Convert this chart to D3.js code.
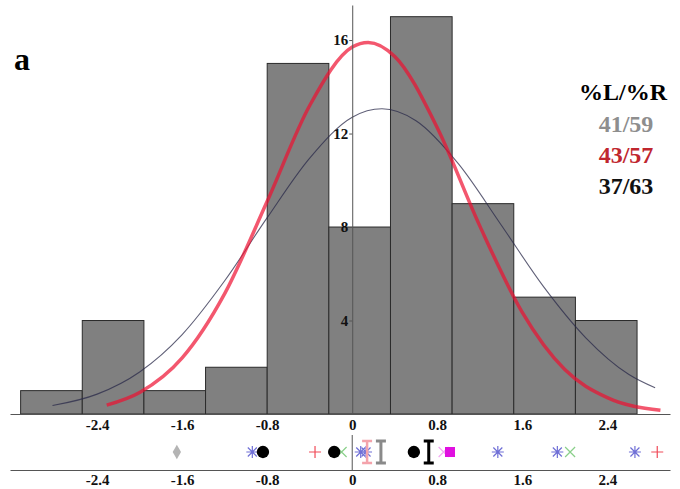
<!DOCTYPE html>
<html>
<head>
<meta charset="utf-8">
<script src="https://cdn.jsdelivr.net/npm/d3@7"></script>
<style>
  body { margin: 0; background: #fff; }
  svg { display: block; }
  .axis path, .axis line { stroke: #555; }
</style>
</head>
<body>
<svg id="chart" width="680" height="489"></svg>
<script>
// histogram bins (edges) and counts
const binEdges = [-3.12, -2.54, -1.96, -1.38, -0.8, -0.22, 0.36, 0.94, 1.52, 2.1, 2.68];
const binCounts = [1, 4, 1, 2, 15, 8, 17, 9, 5, 4];

// red (thick) curve
const redX = [-2.31, -2.0, -1.6, -1.2, -0.8, -0.4, 0, 0.15, 0.4, 0.8, 1.2, 1.6, 2.0, 2.4, 2.9];
const redY = [0.38, 0.92, 2.4, 5.15, 9.1, 13.2, 15.7, 15.9, 15.3, 12.25, 8.05, 4.35, 1.9, 0.7, 0.16];

// thin dark curve
const darkX = [-2.82, -2.4, -2.0, -1.6, -1.2, -0.8, -0.4, 0, 0.28, 0.6, 1.0, 1.4, 1.8, 2.2, 2.6, 2.85];
const darkY = [0.36, 0.85, 1.8, 3.4, 5.7, 8.4, 10.95, 12.7, 13.06, 12.55, 10.7, 8.1, 5.45, 3.25, 1.7, 1.12];

// summary markers in the strip under the histogram
const markerX = [-1.65, -0.94, -0.84, -0.35, -0.1, -0.17, 0.08, 0.13, 0.14, 0.27, 0.58, 0.72, 0.86, 0.92, 1.37, 1.93, 2.05, 2.66, 2.87];
const markerType = ["diamond", "asterisk", "dot", "plus", "x", "dot", "asterisk", "asterisk", "ibeam", "ibeam", "dot", "ibeam", "x", "square", "asterisk", "asterisk", "x", "asterisk", "plus"];
const markerColor = ["#b4b4b4", "#6f6fd6", "#000", "#f04a58", "#8ad08a", "#000", "#6f6fd6", "#6f6fd6", "#f4a3ab", "#8a8a8a", "#000", "#000", "#f2a8f2", "#e010e0", "#6f6fd6", "#6f6fd6", "#8ad08a", "#6f6fd6", "#f04a58"];

const xTicks = [-2.4, -1.6, -0.8, 0, 0.8, 1.6, 2.4];
const yTicks = [4, 8, 12, 16];

const ratioTitle = "%L/%R";
const ratioLabels = ["41/59", "43/57", "37/63"];
const ratioColors = ["#8e8e8e", "#c0262e", "#111"];

const SERIF = "'Liberation Serif', 'Times New Roman', serif";
const svg = d3.select("#chart").attr("font-family", SERIF);

const x = d3.scaleLinear().domain([-3.22, 2.99]).range([10, 670]);
const y = d3.scaleLinear().domain([0, 17.5]).range([414, 5]);
const stripY = 452;
const baseY = 470;

// bars
const bins = binCounts.map((c, i) => ({ x0: binEdges[i], x1: binEdges[i + 1], n: c }));
svg.append("g")
  .selectAll("rect")
  .data(bins)
  .join("rect")
  .attr("x", (d) => x(d.x0))
  .attr("y", (d) => y(d.n))
  .attr("width", (d) => x(d.x1) - x(d.x0))
  .attr("height", (d) => y(0) - y(d.n))
  .attr("fill", "#808080")
  .attr("stroke", "#2b2b2b")
  .attr("stroke-width", 1);

// curves
const line = d3.line()
  .x((d) => x(d[0]))
  .y((d) => y(d[1]))
  .curve(d3.curveMonotoneX);

svg.append("path")
  .datum(darkX.map((v, i) => [v, darkY[i]]))
  .attr("d", line)
  .attr("fill", "none")
  .attr("stroke", "#2a2a4a")
  .attr("stroke-opacity", 0.75)
  .attr("stroke-width", 1.1);

svg.append("path")
  .datum(redX.map((v, i) => [v, redY[i]]))
  .attr("d", line)
  .attr("fill", "none")
  .attr("stroke", "#ee1030")
  .attr("stroke-opacity", 0.7)
  .attr("stroke-width", 3.5);

// bold serif tick labels
function styleTicks(g) {
  g.attr("font-family", SERIF).attr("font-size", 15).attr("font-weight", "bold");
  g.selectAll("text").attr("fill", "#111");
}

// y axis (vertical line through zero)
svg.append("g")
  .attr("class", "axis")
  .attr("transform", `translate(${x(0)},0)`)
  .call(d3.axisLeft(y).tickValues(yTicks).tickSize(3).tickSizeOuter(0).tickPadding(1))
  .call(styleTicks);

// top x axis
const fmt = (d) => (d === 0 ? "0" : d.toFixed(1));
svg.append("g")
  .attr("class", "axis")
  .attr("transform", `translate(0,${y(0)})`)
  .call(d3.axisBottom(x).tickValues(xTicks).tickFormat(fmt).tickSize(0).tickSizeOuter(0).tickPadding(5))
  .call(styleTicks);

// bottom x axis under the marker strip
svg.append("g")
  .attr("class", "axis")
  .attr("transform", `translate(0,${baseY})`)
  .call(d3.axisBottom(x).tickValues(xTicks).tickFormat(fmt).tickSize(0).tickSizeOuter(0).tickPadding(4))
  .call(styleTicks);

svg.append("line")
  .attr("x1", x(0)).attr("x2", x(0))
  .attr("y1", 435).attr("y2", baseY)
  .attr("stroke", "#555");

// marker glyphs
function glyph(type) {
  const p = d3.path();
  if (type === "plus") {
    p.moveTo(-6, 0); p.lineTo(6, 0); p.moveTo(0, -6); p.lineTo(0, 6);
  } else if (type === "x") {
    p.moveTo(-5, -5); p.lineTo(5, 5); p.moveTo(-5, 5); p.lineTo(5, -5);
  } else if (type === "asterisk") {
    p.moveTo(-6, 0); p.lineTo(6, 0); p.moveTo(0, -6); p.lineTo(0, 6);
    p.moveTo(-4.5, -4.5); p.lineTo(4.5, 4.5); p.moveTo(-4.5, 4.5); p.lineTo(4.5, -4.5);
  } else if (type === "ibeam") {
    p.moveTo(0, -11); p.lineTo(0, 11);
    p.moveTo(-5, -11); p.lineTo(5, -11);
    p.moveTo(-5, 11); p.lineTo(5, 11);
  }
  return p.toString();
}

const markers = markerX.map((v, i) => ({ v, type: markerType[i], color: markerColor[i] }));
const strip = svg.append("g");
markers.forEach((m) => {
  const g = strip.append("g").attr("transform", `translate(${x(m.v)},${stripY})`);
  if (m.type === "dot") {
    g.append("path").attr("d", d3.symbol(d3.symbolCircle, 120)()).attr("fill", m.color);
  } else if (m.type === "square") {
    g.append("path").attr("d", d3.symbol(d3.symbolSquare, 100)()).attr("fill", m.color);
  } else if (m.type === "diamond") {
    g.append("path").attr("d", d3.symbol(d3.symbolDiamond, 60)()).attr("fill", m.color);
  } else {
    g.append("path")
      .attr("d", glyph(m.type))
      .attr("fill", "none")
      .attr("stroke", m.color)
      .attr("stroke-width", m.type === "ibeam" ? (m.color === "#f4a3ab" ? 2.5 : 3) : 1.2);
  }
});

// panel letter
svg.append("text")
  .attr("x", 14).attr("y", 70)
  .attr("font-size", 32).attr("font-weight", "bold")
  .text("a");

// left/right ratios
svg.append("text")
  .attr("x", 623).attr("y", 100)
  .attr("text-anchor", "middle")
  .attr("font-size", 24).attr("font-weight", "bold")
  .text(ratioTitle);

svg.append("g")
  .selectAll("text")
  .data(ratioLabels)
  .join("text")
  .attr("x", 626)
  .attr("y", (d, i) => 132 + i * 31)
  .attr("text-anchor", "middle")
  .attr("font-size", 24)
  .attr("font-weight", "bold")
  .attr("fill", (d, i) => ratioColors[i])
  .text((d) => d);
</script>
</body>
</html>
